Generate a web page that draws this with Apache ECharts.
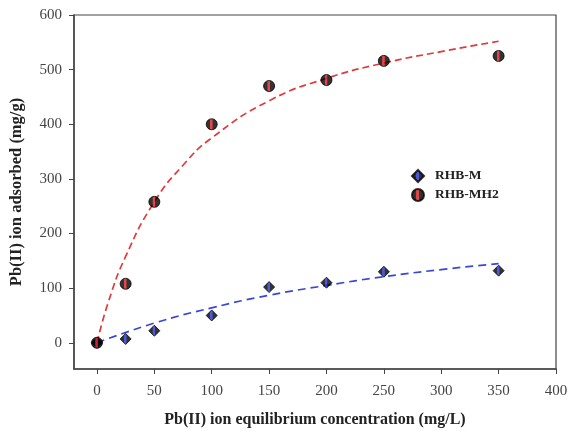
<!DOCTYPE html>
<html><head><meta charset="utf-8">
<script src="https://cdn.jsdelivr.net/npm/echarts@6/dist/echarts.min.js"></script>
<style>html,body{margin:0;padding:0;background:#fff}#c{width:568px;height:431px}</style>
</head><body><div id="c"></div>
<script>
var concX = [0, 25, 50, 100, 150, 200, 250, 350];
var rhbM = [0, 7, 22, 50, 102, 110, 130, 132];
var rhbMH2 = [0, 108, 258, 400, 470, 481, 516, 525];
var fitMX = [0, 50, 100, 150, 200, 250, 300, 350];
var fitM = [0, 36, 64, 87, 105, 121, 134, 145];
var fitMH2X = [0, 10, 25, 50, 75, 100, 150, 200, 250, 300, 350];
var fitMH2 = [0, 75, 158, 258, 325, 375, 443, 484, 512, 533, 552];
var xTicks = [0, 50, 100, 150, 200, 250, 300, 350, 400];
var yTicks = [0, 100, 200, 300, 400, 500, 600];

function pairs(xs, ys) { return xs.map(function (x, i) { return [x, ys[i]]; }); }
function stripe(c) {
  return new echarts.graphic.LinearGradient(0, 0, 1, 0, [
    { offset: 0, color: '#000' }, { offset: 0.33, color: '#000' },
    { offset: 0.4, color: c }, { offset: 0.54, color: c },
    { offset: 0.6, color: '#000' }, { offset: 1, color: '#000' }
  ]);
}

var font = 'Liberation Serif';
var chart = echarts.init(document.getElementById('c'));
chart.setOption({
  animation: false,
  grid: { left: 74, top: 15, right: 12, bottom: 62, outerBoundsMode: 'none', containLabel: false,
          show: true, borderColor: '#444', borderWidth: 1.2 },
  legend: {
    data: ['RHB-M', 'RHB-MH2'],
    orient: 'vertical', left: 406, top: 164, itemGap: 5, itemWidth: 12, itemHeight: 12,
    textStyle: { fontFamily: font, fontWeight: 'bold', fontSize: 13.5, color: '#222', padding: [0, 0, 0, 6] }
  },
  xAxis: {
    type: 'value', min: -20, max: 400,
    name: 'Pb(II) ion equilibrium concentration (mg/L)', nameLocation: 'middle', nameGap: 43,
    nameTextStyle: { fontFamily: font, fontWeight: 'bold', fontSize: 16, color: '#222' },
    axisLine: { show: true, onZero: false, lineStyle: { color: '#444', width: 1.5 } },
    axisTick: { show: true, length: 5, customValues: xTicks, lineStyle: { color: '#444' } },
    axisLabel: { customValues: xTicks, margin: 15, fontFamily: font, fontSize: 15, color: '#444' },
    splitLine: { show: false }
  },
  yAxis: {
    type: 'value', min: -48, max: 600,
    name: 'Pb(II) ion adsorbed (mg/g)', nameLocation: 'middle', nameGap: 49,
    nameTextStyle: { fontFamily: font, fontWeight: 'bold', fontSize: 16.5, color: '#222' },
    axisLine: { show: true, onZero: false, lineStyle: { color: '#444', width: 1.5 } },
    axisTick: { show: true, length: 5, customValues: yTicks, lineStyle: { color: '#444' } },
    axisLabel: { customValues: yTicks, margin: 12, fontFamily: font, fontSize: 15, color: '#444' },
    splitLine: { show: false }
  },
  series: [
    { name: 'fitM', type: 'line', data: pairs(fitMX, fitM), smooth: true, showSymbol: false,
      lineStyle: { color: '#3a46d8', width: 1.7, type: [8, 5] }, z: 2 },
    { name: 'fitMH2', type: 'line', data: pairs(fitMH2X, fitMH2), smooth: true, showSymbol: false,
      lineStyle: { color: '#e03a3a', width: 1.7, type: [7, 4] }, z: 2 },
    { name: 'RHB-M', type: 'scatter', data: pairs(concX, rhbM), symbol: 'diamond', symbolSize: 11,
      itemStyle: { color: stripe('#2030d0'), borderColor: '#000', borderWidth: 1 }, z: 3 },
    { name: 'RHB-MH2', type: 'scatter', data: pairs(concX, rhbMH2), symbol: 'circle', symbolSize: 11,
      itemStyle: { color: stripe('#e01818'), borderColor: '#000', borderWidth: 1 }, z: 4 }
  ]
});
</script></body></html>
